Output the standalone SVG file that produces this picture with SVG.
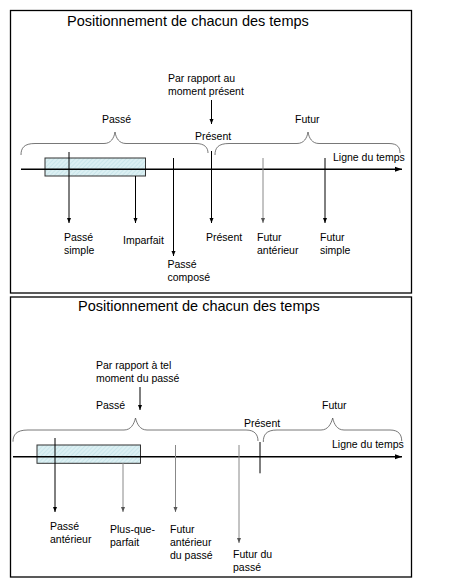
<svg xmlns="http://www.w3.org/2000/svg" width="453" height="582" viewBox="0 0 453 582">
<defs>
<marker id="ah" markerWidth="6" markerHeight="6" refX="5" refY="3" orient="auto" markerUnits="userSpaceOnUse">
<path d="M0,1 L5,3 L0,5 Z" fill="#000"/>
</marker>
<marker id="ahg" markerWidth="6" markerHeight="6" refX="5" refY="3" orient="auto" markerUnits="userSpaceOnUse">
<path d="M0,1 L5,3 L0,5 Z" fill="#555"/>
</marker>
<marker id="big" markerWidth="8" markerHeight="8" refX="7" refY="4" orient="auto" markerUnits="userSpaceOnUse">
<path d="M0,1.5 L7,4 L0,6.5 Z" fill="#000"/>
</marker>
<pattern id="hatch" width="3" height="3" patternUnits="userSpaceOnUse" patternTransform="rotate(45)">
<rect width="3" height="3" fill="#dcf0f3"/>
<line x1="0" y1="0" x2="0" y2="3" stroke="#b8dde3" stroke-width="1"/>
</pattern>
</defs>
<style>
text{font-family:"Liberation Sans",Arial,sans-serif;font-size:10.5px;fill:#000}
.title{font-size:14.5px}
.frame{fill:#fff;stroke:#000;stroke-width:1.3}
.brace{fill:none;stroke:#555;stroke-width:0.8}
.axis{stroke:#000;stroke-width:1.5;fill:none}
.ar{stroke:#000;stroke-width:1;fill:none}
.arg{stroke:#888;stroke-width:1;fill:none}
.box{fill:url(#hatch);stroke:#333;stroke-width:1}
</style>
<rect width="453" height="582" fill="#fff"/>
<!-- Panel 1 -->
<g id="panel1">
<rect class="frame" x="10.5" y="10.5" width="401" height="282.5"/>
<text class="title" x="67" y="26">Positionnement de chacun des temps</text>
</g>
<g id="p1-ref">
<text x="168" y="82">Par rapport au</text>
<text x="168" y="95">moment présent</text>
</g>
<g id="p1-passe"><text x="102" y="123">Passé</text></g>
<g id="p1-futur"><text x="295" y="123">Futur</text></g>
<g id="p1-present-top"><text x="195" y="140">Présent</text></g>
<g id="p1-ligne"><text x="333" y="161">Ligne du temps</text></g>
<g id="p1-box"><rect class="box" x="45" y="158" width="100.5" height="18"/></g>
<g id="p1-labels">
<text x="64" y="241">Passé</text><text x="64" y="254">simple</text>
<text x="123" y="244">Imparfait</text>
<text x="167.5" y="268">Passé</text><text x="167.5" y="281">composé</text>
<text x="206" y="241">Présent</text>
<text x="257" y="241">Futur</text><text x="257" y="254">antérieur</text>
<text x="320" y="241">Futur</text><text x="320" y="254">simple</text>
</g>
<g id="p1-connectors">
<path class="brace" d="M21,155 C21,148 24,143.5 35,143.5 L104,143.5 C111,143.5 114,138 115,132 C116,138 119,143.5 126,143.5 L196,143.5 C205,143.5 208,148 208,153"/>
<path class="brace" d="M215,155 C215,148 218,143.5 229,143.5 L297,143.5 C304,143.5 307,138 308,132 C309,138 312,143.5 319,143.5 L389,143.5 C398,143.5 400,148 400,153"/>
<line class="axis" x1="21" y1="169.3" x2="402" y2="169.3" marker-end="url(#big)"/>
<line class="ar" x1="211.5" y1="100" x2="211.5" y2="124" marker-end="url(#ah)"/>
<line class="ar" x1="69" y1="152" x2="69" y2="223" marker-end="url(#ah)"/>
<line class="ar" x1="135.5" y1="176" x2="135.5" y2="223" marker-end="url(#ah)"/>
<line class="ar" x1="173.5" y1="158" x2="173.5" y2="256" marker-end="url(#ah)"/>
<line class="ar" x1="211.5" y1="151" x2="211.5" y2="223" marker-end="url(#ah)"/>
<line class="arg" x1="263" y1="158" x2="263" y2="223" stroke="#bbb" marker-end="url(#ahg)"/>
<line class="ar" x1="325" y1="158" x2="325" y2="223" marker-end="url(#ah)"/>
</g>
<!-- Panel 2 -->
<g id="panel2">
<rect class="frame" x="10.5" y="297" width="401" height="280"/>
<text class="title" x="78" y="311">Positionnement de chacun des temps</text>
</g>
<g id="p2-ref">
<text x="96" y="369">Par rapport à tel</text>
<text x="96" y="382">moment du passé</text>
</g>
<g id="p2-passe"><text x="96" y="409">Passé</text></g>
<g id="p2-futur"><text x="322" y="409">Futur</text></g>
<g id="p2-present-top"><text x="244" y="427">Présent</text></g>
<g id="p2-ligne"><text x="332" y="448">Ligne du temps</text></g>
<g id="p2-box"><rect class="box" x="37" y="445" width="103.5" height="18.3"/></g>
<g id="p2-labels">
<text x="50" y="530">Passé</text><text x="50" y="543">antérieur</text>
<text x="110" y="533">Plus-que-</text><text x="110" y="546">parfait</text>
<text x="170" y="533">Futur</text><text x="170" y="546">antérieur</text><text x="170" y="559">du passé</text>
<text x="233" y="558">Futur du</text><text x="233" y="571">passé</text>
</g>
<g id="p2-connectors">
<path class="brace" d="M13,441.7 C13,435 16,430 28,430 L124,430 C131,430 134,424 135.5,418 C137,424 140,430 147,430 L246,430 C255,430 258,435 258,441"/>
<path class="brace" d="M263.3,442 C263.3,435 266,430 277,430 L321,430 C328,430 331,424 332.7,418 C334,424 337,430 344,430 L390,430 C399,430 401.7,435 401.7,441"/>
<line class="axis" x1="13" y1="456.7" x2="402" y2="456.7" marker-end="url(#big)"/>
<line class="ar" x1="140" y1="387" x2="140" y2="410" marker-end="url(#ah)"/>
<line class="ar" x1="260" y1="442" x2="260" y2="473.3"/>
<line class="ar" x1="55" y1="438" x2="55" y2="512" marker-end="url(#ah)"/>
<line class="arg" x1="123" y1="463" x2="123" y2="512" marker-end="url(#ahg)"/>
<line class="arg" x1="175.5" y1="445" x2="175.5" y2="512" marker-end="url(#ahg)"/>
<line class="arg" x1="239" y1="445" x2="239" y2="543" marker-end="url(#ahg)"/>
</g>
</svg>
